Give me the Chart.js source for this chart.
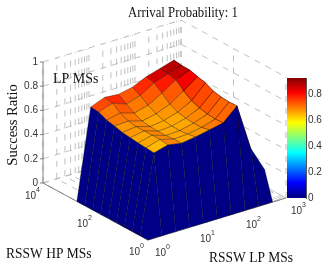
<!DOCTYPE html>
<html>
<head>
<meta charset="utf-8">
<script src="https://cdn.jsdelivr.net/npm/chart.js@4"></script>
<style>
  html, body { margin: 0; padding: 0; background: #fff; }
  #wrap { position: relative; width: 327px; height: 273px; overflow: hidden; }
  #surface { position: absolute; left: 0; top: 0; }
  #colorbar { position: absolute; left: 287px; top: 70px; }
</style>
</head>
<body>
<div id="wrap">
  <canvas id="surface" width="327" height="273"></canvas>
  <canvas id="colorbar" width="40" height="136"></canvas>
</div>
<script>
// RSSW sweep values, both axes
const lpValues = [1, 2, 4, 8, 16, 32, 64, 128, 256, 512];
const hpValues = [1, 2, 4, 8, 16, 32, 64, 128, 256, 512];

// one row per hpValues entry, one column per lpValues entry
const successRatio = [
  [0, 0, 0, 0, 0, 0, 0, 0, 0, 0],
  [0, 0.649, 0.680, 0.660, 0.677, 0.700, 0.722, 0.829, 0.440, 0.230],
  [0, 0.655, 0.690, 0.658, 0.665, 0.685, 0.720, 0.826, 0.450, 0.230],
  [0, 0.660, 0.690, 0.652, 0.658, 0.685, 0.725, 0.832, 0.460, 0.240],
  [0, 0.668, 0.690, 0.652, 0.660, 0.690, 0.740, 0.846, 0.470, 0.240],
  [0, 0.676, 0.690, 0.655, 0.670, 0.705, 0.765, 0.877, 0.480, 0.250],
  [0, 0.694, 0.700, 0.665, 0.690, 0.735, 0.810, 0.895, 0.490, 0.250],
  [0, 0.708, 0.730, 0.695, 0.725, 0.790, 0.865, 0.913, 0.500, 0.260],
  [0, 0.739, 0.777, 0.735, 0.770, 0.840, 0.880, 0.915, 0.500, 0.260],
  [0, 0.745, 0.790, 0.780, 0.805, 0.855, 0.890, 0.925, 0.500, 0.260]
];

const zTicks = [0, 0.2, 0.4, 0.6, 0.8, 1];
const barTicks = [0, 0.2, 0.4, 0.6, 0.8];
const lpDecades = [1, 10, 100, 1000];
const hpMajor = [1, 100, 10000];
const minorSteps = [2, 3, 4, 5, 6, 7, 8, 9];
const colorMax = 0.925;
const colorLevels = 60;

// box corners on the page, taken from the reference view
const FRONT = [148, 240];
const RIGHT = [286, 198];
const LEFT = [43, 183];
const Z_HEIGHT = 121;

function project(lp, hp, z) {
  const a = Math.log10(lp) / 3;
  const b = Math.log10(hp) / 4;
  return {
    x: FRONT[0] + a * (RIGHT[0] - FRONT[0]) + b * (LEFT[0] - FRONT[0]),
    y: FRONT[1] + a * (RIGHT[1] - FRONT[1]) + b * (LEFT[1] - FRONT[1]) - z * Z_HEIGHT
  };
}

function jet(t) {
  const ramp = (v) => Math.round(255 * Math.max(0, Math.min(1, v)));
  const r = ramp(Math.min(4 * t - 1.5, -4 * t + 4.5));
  const g = ramp(Math.min(4 * t - 0.5, -4 * t + 3.5));
  const b = ramp(Math.min(4 * t + 0.5, -4 * t + 2.5));
  return `rgb(${r},${g},${b})`;
}

function levelColor(v) {
  const level = Math.min(63, Math.floor(v / colorMax * 64));
  return jet((level + 0.5) / 64);
}

const datasets = [];

function addGridLine(from, to) {
  datasets.push({
    data: [project(...from), project(...to)],
    showLine: true, pointRadius: 0, borderColor: '#b0b0b0', borderWidth: 0.8,
    borderDash: [6, 6], order: 200
  });
}

function addAxisLine(from, to) {
  datasets.push({
    data: [project(...from), project(...to)],
    showLine: true, pointRadius: 0, borderColor: '#666', borderWidth: 0.8, order: 150
  });
}

// grid on the two back walls and the floor
const lpGrid = [];
lpDecades.forEach((d) => {
  lpGrid.push(d);
  if (d < 1000) minorSteps.forEach((m) => lpGrid.push(d * m));
});
lpGrid.forEach((lp) => {
  addGridLine([lp, 10000, 0], [lp, 10000, 1]);
  addGridLine([lp, 1, 0], [lp, 10000, 0]);
});
hpMajor.forEach((hp) => {
  addGridLine([1000, hp, 0], [1000, hp, 1]);
  addGridLine([1, hp, 0], [1000, hp, 0]);
});
zTicks.forEach((z) => {
  addGridLine([1, 10000, z], [1000, 10000, z]);
  addGridLine([1000, 10000, z], [1000, 1, z]);
});

addAxisLine([1, 10000, 0], [1, 10000, 1]);
addAxisLine([1, 10000, 0], [1, 1, 0]);
addAxisLine([1, 1, 0], [1000, 1, 0]);

// surface quads, flat coloured from their lowest-index corner like surf()
for (let j = 0; j < hpValues.length - 1; j++) {
  for (let i = 0; i < lpValues.length - 1; i++) {
    const corner = (c, r) => project(lpValues[c], hpValues[r], successRatio[r][c]);
    const first = corner(i, j);
    datasets.push({
      data: [first, corner(i + 1, j), corner(i + 1, j + 1), corner(i, j + 1), first],
      showLine: true, pointRadius: 0, tension: 0, fill: 'shape',
      backgroundColor: levelColor(successRatio[j][i]),
      borderColor: 'rgba(0,0,0,0.5)', borderWidth: 0.6,
      order: i + j
    });
  }
}

const SERIF = '"Liberation Serif", serif';
const SANS = '"Liberation Sans", sans-serif';

// the reference text is narrowed horizontally, so squeeze it the same way
function squeezedText(ctx, text, x, y, size, squeeze) {
  ctx.save();
  ctx.font = `${size}px ${SERIF}`;
  ctx.translate(x, y);
  ctx.scale(squeeze, 1);
  ctx.fillText(text, 0, 0);
  ctx.restore();
}

function powerLabel(ctx, base, exp, x, y) {
  ctx.font = `10px ${SANS}`;
  ctx.fillStyle = '#333';
  ctx.textAlign = 'left';
  ctx.fillText(base, x, y);
  ctx.font = `7px ${SANS}`;
  ctx.fillText(exp, x + 11, y - 6);
}

const textPlugin = {
  id: 'chartText',
  afterDatasetsDraw(chart) {
    const { ctx } = chart;
    ctx.save();
    ctx.textBaseline = 'middle';
    ctx.fillStyle = '#111';
    ctx.textAlign = 'left';
    squeezedText(ctx, 'Arrival Probability: 1', 128, 13, 14.5, 0.88);
    squeezedText(ctx, 'LP MSs', 53, 79, 15, 0.93);
    squeezedText(ctx, 'RSSW HP MSs', 6, 254, 15, 0.9);
    squeezedText(ctx, 'RSSW LP MSs', 209, 258, 15, 0.9);
    ctx.font = `14.6px ${SERIF}`;
    ctx.save();
    ctx.translate(13, 125);
    ctx.rotate(-Math.PI / 2);
    ctx.textAlign = 'center';
    ctx.fillText('Success Ratio', 0, 0);
    ctx.restore();

    // z axis tick labels and marks
    ctx.font = `10px ${SANS}`;
    ctx.fillStyle = '#333';
    ctx.textAlign = 'right';
    ctx.strokeStyle = '#666';
    ctx.lineWidth = 0.8;
    zTicks.forEach((z) => {
      const p = project(1, 10000, z);
      ctx.beginPath();
      ctx.moveTo(p.x - 3, p.y);
      ctx.lineTo(p.x, p.y);
      ctx.stroke();
      ctx.fillText(String(z), p.x - 5, p.y);
    });

    powerLabel(ctx, '10', '4', 25, 196);
    powerLabel(ctx, '10', '2', 77, 224);
    powerLabel(ctx, '10', '0', 129, 252);
    powerLabel(ctx, '10', '0', 155, 253);
    powerLabel(ctx, '10', '1', 200, 239);
    powerLabel(ctx, '10', '2', 246, 225);
    powerLabel(ctx, '10', '3', 291, 211);
    ctx.restore();
  }
};

new Chart(document.getElementById('surface'), {
  type: 'scatter',
  data: { datasets },
  options: {
    responsive: false,
    animation: false,
    events: [],
    layout: { padding: 0 },
    plugins: { legend: { display: false }, tooltip: { enabled: false } },
    scales: {
      x: { type: 'linear', min: 0, max: 327, display: false },
      y: { type: 'linear', min: 0, max: 273, reverse: true, display: false }
    }
  },
  plugins: [textPlugin]
});

// colorbar: a stacked single bar with its own value axis
const barBands = [];
for (let k = 0; k < colorLevels; k++) {
  barBands.push({
    data: [colorMax / colorLevels],
    backgroundColor: jet((k + 0.5) / colorLevels),
    borderWidth: 0, barPercentage: 1, categoryPercentage: 1, stack: 'bar'
  });
}

new Chart(document.getElementById('colorbar'), {
  type: 'bar',
  data: { labels: [''], datasets: barBands },
  options: {
    responsive: false,
    animation: false,
    events: [],
    layout: { padding: { top: 8, bottom: 8 } },
    plugins: { legend: { display: false }, tooltip: { enabled: false } },
    scales: {
      x: { display: false, stacked: true },
      y: {
        stacked: true,
        position: 'right',
        min: 0,
        max: colorMax,
        afterBuildTicks: (scale) => { scale.ticks = barTicks.map((value) => ({ value })); },
        afterFit: (scale) => { scale.width = 21; },
        grid: { display: false, drawTicks: false },
        border: { color: '#555' },
        ticks: {
          padding: 2,
          color: '#333',
          font: { family: 'Liberation Sans', size: 10 },
          callback: (v) => String(v)
        }
      }
    }
  }
});
</script>
</body>
</html>
